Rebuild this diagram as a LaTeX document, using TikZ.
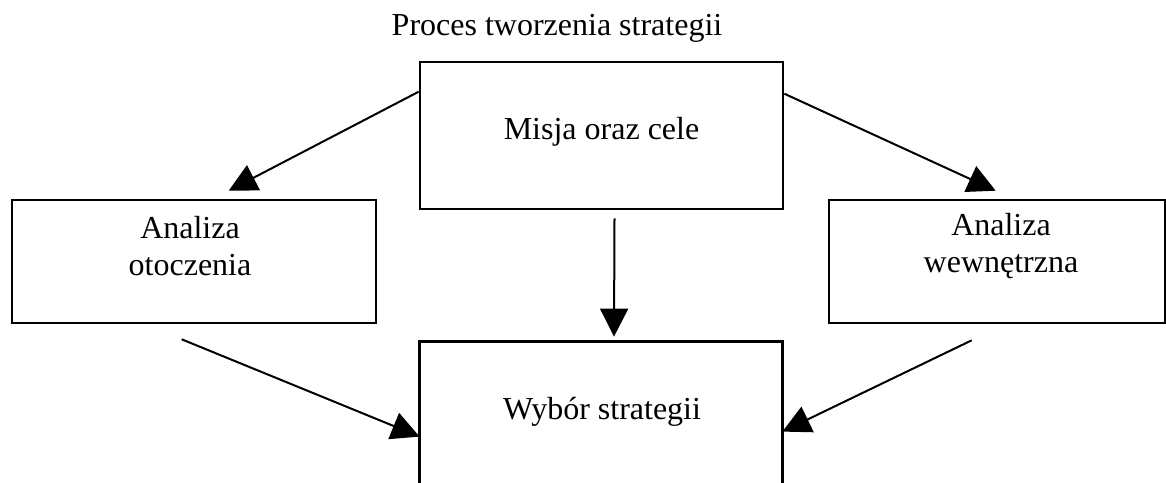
\documentclass[tikz,border=0pt]{standalone}
\usepackage{fontspec}
\setmainfont{Liberation Serif}
\usetikzlibrary{arrows.meta,calc}

\begin{document}
\begin{tikzpicture}[x=0.5pt,y=-0.5pt,
  box/.style={draw, line width=1.3pt, rectangle, inner sep=0pt},
  arr/.style={line width=1pt, -{Triangle[length=14pt,width=14pt]}},
  lbl/.style={font=\fontsize{16}{18.5}\selectfont, align=center}]
  \clip (0,0) rectangle (1166,482);

  % Title
  \node[lbl, anchor=base] (title) at (557,35) {Proces tworzenia strategii};

  % Boxes
  \node[box, lbl, text depth=7pt, minimum width=181.5pt, minimum height=73.5pt] (misja) at (601.5,135.5) {Misja oraz cele};
  \node[box, minimum width=182pt, minimum height=61.5pt] (otocz) at (194,261.5) {};
  \node[lbl] (otoczT) at (190,246.5) {Analiza\\otoczenia};
  \node[box, minimum width=168pt, minimum height=61.5pt] (wewn) at (997,261.5) {};
  \node[lbl] (wewnT) at (1001,246.5) {Analiza\\wewnętrzna};

  % Bottom box (open at the bottom edge)
  \node[inner sep=0pt, minimum width=181pt, minimum height=79pt] (wybor) at (601,421) {};
  \draw[line width=1.3pt] (wybor.south west) -- (wybor.north west) -- (wybor.north east) -- (wybor.south east);
  \node[lbl, anchor=base] (wyborT) at (602,419) {Wybór strategii};

  % Arrows
  \draw[arr] ([yshift=-15.5pt]misja.north west) -- ([xshift=109pt,yshift=4pt]otocz.north west);
  \draw[arr] ([yshift=-16.5pt]misja.north east) -- ([xshift=84pt,yshift=4pt]wewn.north west);
  \draw[arr] ([xshift=6.5pt,yshift=-4pt]misja.south) -- ([xshift=6.5pt,yshift=2.5pt]wybor.north);
  \draw[arr] ([xshift=85.5pt,yshift=-7.5pt]otocz.south west) -- ([yshift=-47.5pt]wybor.north west);
  \draw[arr] ([xshift=72pt,yshift=-8pt]wewn.south west) -- ([yshift=-45pt]wybor.north east);
\end{tikzpicture}
\end{document}
